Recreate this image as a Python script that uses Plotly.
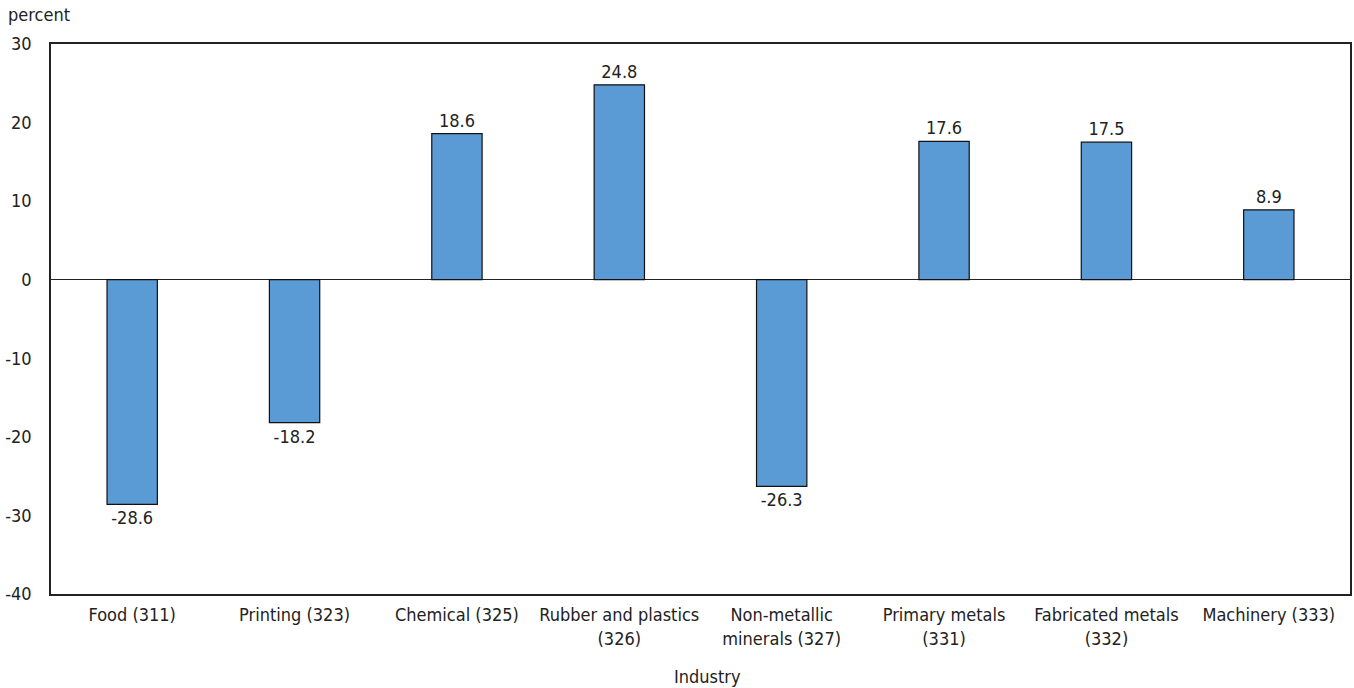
import plotly.graph_objects as go

categories = ["Food (311)", "Printing (323)", "Chemical (325)", "Rubber and plastics<br>(326)",
              "Non-metallic<br>minerals (327)", "Primary metals<br>(331)",
              "Fabricated metals<br>(332)", "Machinery (333)"]
values = [-28.6, -18.2, 18.6, 24.8, -26.3, 17.6, 17.5, 8.9]
y_ticks = [30, 20, 10, 0, -10, -20, -30, -40]
y_tick_labels = ["30", "20", "10", "0", "-10", "-20", "-30", "-40"]

FONT = "DejaVu Sans Condensed, Liberation Sans Narrow, sans-serif"

fig = go.Figure(go.Bar(
    x=categories, y=values,
    marker=dict(color="#5B9BD5", line=dict(color="#111", width=1.2)),
    text=[f"{v:.1f}" for v in values],
    textposition="outside",
    textfont=dict(size=18, color="#222", family=FONT),
    cliponaxis=False,
    width=0.31,
))

fig.update_layout(
    width=1354, height=688,
    margin=dict(l=51, r=4, t=44, b=94),
    plot_bgcolor="white", paper_bgcolor="white",
    font=dict(family=FONT, size=18, color="#222"),
    showlegend=False,
    xaxis=dict(showgrid=False, showline=True, linecolor="#222", linewidth=1.5, mirror=True,
               ticks="", tickfont=dict(size=18), ticklabelstandoff=4, automargin=False),
    yaxis=dict(range=[-40, 30], tickvals=y_ticks, ticktext=y_tick_labels, showgrid=False, showline=True,
               linecolor="#222", linewidth=1.5, mirror=True,
               zeroline=True, zerolinecolor="#222", zerolinewidth=1,
               ticks="", tickfont=dict(size=18), ticklabelstandoff=14, automargin=False),
    annotations=[
        dict(text="percent", xref="paper", yref="paper", x=-45/1299, y=1 + 29/550,
             xanchor="left", yanchor="middle", showarrow=False, font=dict(size=18)),
        dict(text="Industry", xref="paper", yref="paper", x=(707 - 51) / 1299, y=-(676 - 594) / 550,
             xanchor="center", yanchor="middle", showarrow=False, font=dict(size=18)),
    ],
)

fig.write_html("out.html", config={"displayModeBar": False},
               post_script="document.body.style.margin='0';")
